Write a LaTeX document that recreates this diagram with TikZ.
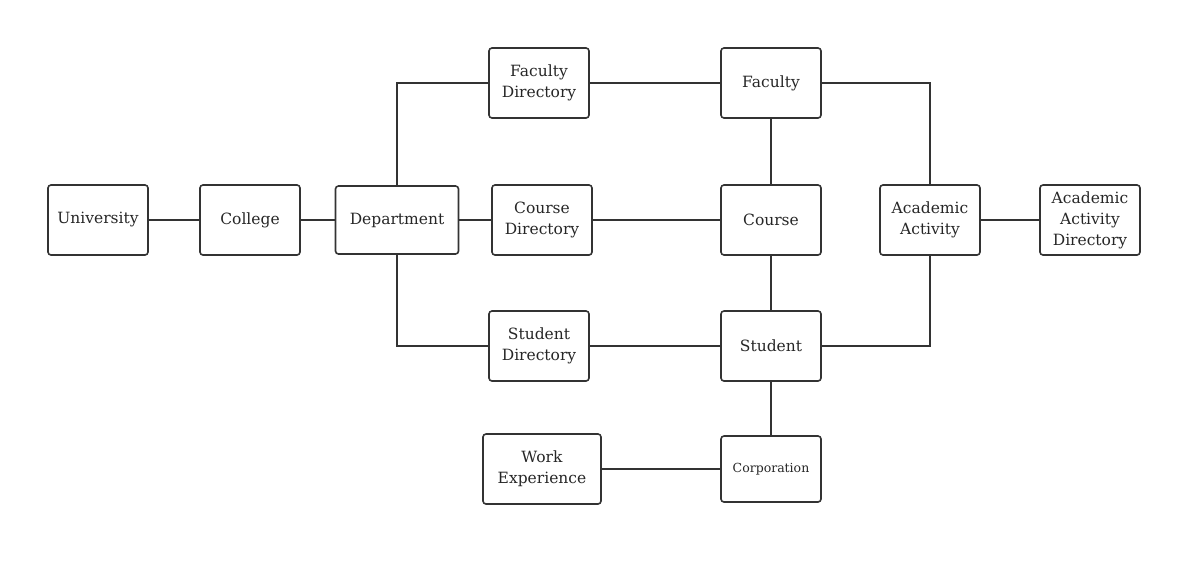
\documentclass[tikz,border=0pt]{standalone}
\usepackage{fontspec}
\setmainfont{DejaVu Serif}
\usetikzlibrary{positioning,calc}

\begin{document}
\begin{tikzpicture}[
    x=1pt, y=-1pt,
    entity/.style={rectangle, draw=black!80, line width=1.6pt, rounded corners=3pt,
                   minimum width=100pt, minimum height=70pt, align=center,
                   font=\fontsize{15.5pt}{21pt}\selectfont, inner sep=2pt, text=black!85},
    link/.style={draw=black!80, line width=1.6pt},
]
\useasboundingbox (0,0) rectangle (1202,566);

% Left chain
\node[entity] (univ) at (98, 220)  {University};
\node[entity] (coll) at (250, 220) {College};
\node[entity, minimum width=123pt, minimum height=68pt] (dept) at (397, 220) {Department};

% Directories
\node[entity] (facdir) at (539, 83)  {Faculty\\Directory};
\node[entity] (crsdir) at (542, 220) {Course\\Directory};
\node[entity] (studir) at (539, 346) {Student\\Directory};
\node[entity, minimum width=118pt] (work) at (542, 469) {Work\\Experience};

% Core entities
\node[entity] (fac)  at (771, 83)  {Faculty};
\node[entity] (crs)  at (771, 220) {Course};
\node[entity] (stu)  at (771, 346) {Student};
\node[entity, minimum height=66pt, font=\fontsize{12.5pt}{15pt}\selectfont] (corp) at (771, 469) {Corporation};

% Academic activity
\node[entity] (act)    at (930, 220)  {Academic\\Activity};
\node[entity] (actdir) at (1090, 220) {Academic\\Activity\\Directory};

% Connections
\draw[link] (univ) -- (coll);
\draw[link] (coll) -- (dept);
\draw[link] (dept) -- (crsdir);
\draw[link] (crsdir) -- (crs);
\draw[link] (dept.north) |- (facdir.west);
\draw[link] (dept.south) |- (studir.west);
\draw[link] (facdir) -- (fac);
\draw[link] (studir) -- (stu);
\draw[link] (fac) -- (crs);
\draw[link] (crs) -- (stu);
\draw[link] (stu) -- (corp);
\draw[link] (work) -- (corp);
\draw[link] (fac.east) -| (act.north);
\draw[link] (act.south) |- (stu.east);
\draw[link] (act) -- (actdir);
\end{tikzpicture}
\end{document}
